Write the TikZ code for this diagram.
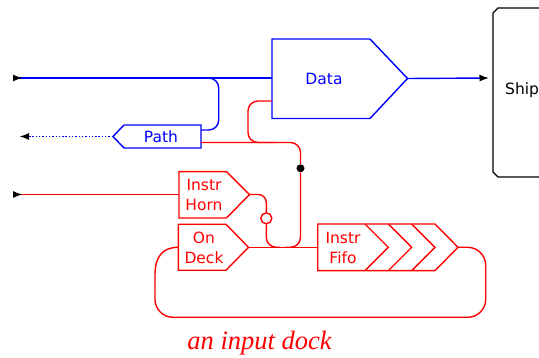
\documentclass[tikz,border=0pt]{standalone}
\usepackage{fontspec}
\newfontfamily\dejavu{DejaVu Sans}
\newfontfamily\capfont{Liberation Serif}
\usetikzlibrary{arrows.meta}
\tikzset{
  ahead/.tip={Latex[length=9.5pt,width=7pt,color=black]},
  lbl/.style={font=\dejavu\fontsize{15.5}{20}\selectfont, align=center, inner sep=0pt},
  bwire/.style={draw=blue, line width=1.4pt},
  rwire/.style={draw=red, line width=1.4pt},
  shapeb/.style={draw=blue, line width=1.4pt},
  shaper/.style={draw=red, line width=1.4pt},
}
\begin{document}
\begin{tikzpicture}[x=1pt,y=-1pt, line join=miter]
\useasboundingbox (0,0) rectangle (539,358);
\clip (0,0) rectangle (539,358);

% ---- Ship
\draw[black, line width=1.4pt] (560,8) -- (498,8) -- (493,13) -- (493,172) -- (498,177) -- (560,177);
\node[lbl, anchor=west] (ship) at (505,90) {Ship};
\coordinate (shipIn) at (489,78);

% ---- Data
\draw[shapeb] (272,39) -- (370,39) -- (407.5,78.5) -- (370,118.5) -- (272,118.5) -- cycle;
\node[lbl, text=blue] (data) at (324,78.5) {Data};
\coordinate (dataW) at (272,78);
\coordinate (dataWr) at (272,101);
\coordinate (dataE) at (407.5,78.5);

% ---- Path
\draw[shapeb] (201,125) -- (124,125) -- (113,136.5) -- (124,148) -- (201,148) -- cycle;
\node[lbl, text=blue] (path) at (161,136.5) {Path};
\coordinate (pathE1) at (201,130);
\coordinate (pathE2) at (201,142.5);
\coordinate (pathW) at (113,136.5);

% ---- Instr Horn
\draw[shaper] (179,171.7) -- (226.5,171.7) -- (249.5,194.5) -- (226.5,218) -- (179,218) -- cycle;
\node[lbl, text=red] (horn) at (204,195) {Instr\\Horn};
\coordinate (hornW) at (179,194.5);
\coordinate (hornE) at (249.5,194.5);

% ---- On Deck
\draw[shaper] (178.3,224.3) -- (226,224.3) -- (248.5,247.3) -- (226,270.3) -- (178.3,270.3) -- cycle;
\node[lbl, text=red] (deck) at (204,247.5) {On\\Deck};
\coordinate (deckW) at (178.3,247.3);
\coordinate (deckE) at (248.5,247.3);

% ---- Instr Fifo
\draw[shaper] (317.7,224) -- (435,224) -- (458,247.3) -- (435,270.7) -- (317.7,270.7) -- cycle;
\draw[shaper] (365,224) -- (388.3,247.3) -- (365,270.7);
\draw[shaper] (388.3,224) -- (411.7,247.3) -- (388.3,270.7);
\draw[shaper] (411.7,224) -- (435,247.3) -- (411.7,270.7);
\node[lbl, text=red] (fifo) at (343,247.5) {Instr\\Fifo};
\coordinate (fifoW) at (317.7,247.3);
\coordinate (fifoE) at (458,247.3);

% ---- junctions
\node[circle, fill=black, inner sep=0pt, minimum size=8pt] (j1) at (300.5,168.3) {};
\node[circle, draw=red, fill=white, line width=1.4pt, inner sep=0pt, minimum size=11pt] (ring) at (266.3,218.3) {};

% ---- free ends
\coordinate (in1) at (13,78);
\coordinate (in2) at (13,194.5);
\coordinate (out1) at (19.5,136.5);
\coordinate (split1) at (200,78);

% ---- blue wires
\draw[bwire, {ahead[reversed]}-] (in1) -- (dataW);
\draw[bwire, -{ahead}] (dataE) -- (shipIn);
\draw[bwire, rounded corners=10pt] (split1) -- (218.7,78) -- (218.7,130) -- (pathE1);
\draw[bwire, dash pattern=on 1.4pt off 1.9pt, -{ahead}] (pathW) -- (out1);

% ---- red wires
\draw[rwire, rounded corners=10pt] (dataWr) -- (248,101) -- (248,142.5) -- (275,142.5);
\draw[rwire, rounded corners=10pt] (pathE2) -- (300.5,142.5) -- (j1.north);
\draw[rwire, rounded corners=10pt] (j1.south) -- (300.5,247.3) -- (285,247.3);
\draw[rwire, {ahead[reversed]}-] (in2) -- (hornW);
\draw[rwire, rounded corners=8pt] (hornE) -- (266.3,194.5) -- (ring.north);
\draw[rwire, rounded corners=10pt] (ring.south) -- (266.3,247.3) -- (280,247.3);
\draw[rwire] (deckE) -- (fifoW);
\draw[rwire, rounded corners=18pt] (fifoE) -- (485.7,247.3) -- (485.7,317.3) -- (155,317.3) -- (155,285);
\draw[rwire] (155,285.5) -- (155,275) .. controls (155,256) and (163,247.3) .. (deckW);

% ---- caption
\node[text=red, font=\capfont\itshape\fontsize{26.5}{30}\selectfont, inner sep=0pt] (cap) at (259.5,343) {an input dock};
\end{tikzpicture}
\end{document}
